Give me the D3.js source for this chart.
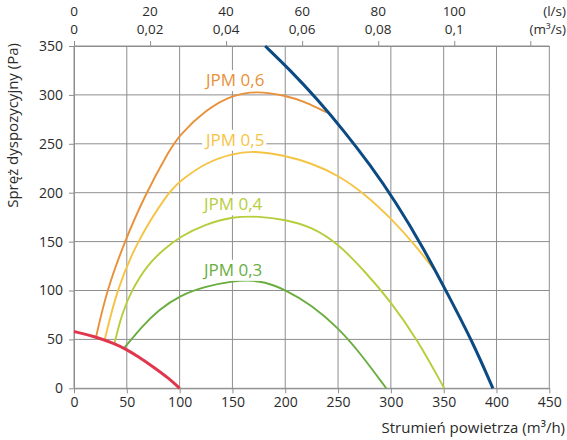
<!DOCTYPE html>
<html>
<head>
<meta charset="utf-8">
<script src="https://cdn.jsdelivr.net/npm/d3@7"></script>
<style>
  body { margin: 0; background: #fff; }
  svg { display: block; font-family: "Open Sans", sans-serif; }
  .tick text { fill: #2b2b2b; }
</style>
</head>
<body>
<svg id="chart" width="567" height="440"></svg>
<script>
// flow in m3/h, pressure in Pa
var xTicks = [0, 50, 100, 150, 200, 250, 300, 350, 400, 450];
var yTicks = [0, 50, 100, 150, 200, 250, 300, 350];
var lsTicks = [0, 20, 40, 60, 80, 100, 120];
var lsLabels = ['0', '20', '40', '60', '80', '100', ''];
var m3sLabels = ['0', '0,02', '0,04', '0,06', '0,08', '0,1', ''];

var jpm06 = [[21,53],[31,100],[48,150],[66,195],[91,245],[100,259],[125,285],[150,300],[173,304],[200,299.5],[220,292.5],[239.4,282]];
var jpm05 = [[29,49.4],[40.4,100],[59.4,150],[89,200],[100.4,212],[125,231],[150,240],[170,243],[200,238],[225,230],[250,218],[275,199],[300,174],[325,144],[341,121]];
var jpm04 = [[38.5,46.7],[45,75],[54.3,100],[70,127],[85,142],[100,155],[125,168],[150,175.5],[175,176],[200,172.5],[225,165],[250,148],[275,120],[300,88.6],[325,50],[350.5,0]];
var jpm03 = [[47.4,41],[65,64],[80,80],[100,95],[125,104.5],[150,109.5],[165,110.5],[180,109],[200,101],[225,85],[250,62],[271,36],[295.6,0]];
var minCurve = [[0,58],[20,53],[40,45],[50,39.5],[60,33],[75,22],[90,10],[100,0]];
var maxCurve = [[181,350],[205,325],[230,296],[255,264],[280,229],[305,190],[330,145],[355,94],[378,46],[396.6,0]];

var seriesNames = ['JPM 0,6', 'JPM 0,5', 'JPM 0,4', 'JPM 0,3'];
var seriesColors = ['#e8913a', '#f6c445', '#b6cd3c', '#6aad3f'];
var labelPos = [[125, 309], [125, 248], [123, 182], [123, 115]];

var svg = d3.select('#chart');
var x = d3.scaleLinear().domain([0, 450]).range([74, 549.3]);
var y = d3.scaleLinear().domain([0, 350]).range([388.3, 46]);
var xls = d3.scaleLinear().domain([0, 450 / 3.6]).range([74, 549.3]);

var gridColor = '#8e8e8e';

// grid
svg.append('g').selectAll('line').data(xTicks).enter().append('line')
   .attr('x1', d => x(d)).attr('x2', d => x(d))
   .attr('y1', y(0)).attr('y2', y(350))
   .attr('stroke', gridColor).attr('stroke-width', 1);
svg.append('g').selectAll('line').data(yTicks).enter().append('line')
   .attr('x1', x(0)).attr('x2', x(450))
   .attr('y1', d => y(d)).attr('y2', d => y(d))
   .attr('stroke', gridColor).attr('stroke-width', 1);

function styleAxis(g){
	g.select('.domain').attr('stroke', gridColor);
	g.selectAll('.tick line').attr('stroke', gridColor);
	g.selectAll('.tick text').style('font-size', '14px').style('font-family', '"Open Sans", sans-serif');
}

svg.append('g')
   .attr('transform', 'translate(0,' + y(0) + ')')
   .call(d3.axisBottom(x).tickValues(xTicks).tickSize(5).tickSizeOuter(0).tickPadding(4))
   .call(styleAxis);

svg.append('g')
   .attr('transform', 'translate(' + x(0) + ',0)')
   .call(d3.axisLeft(y).tickValues(yTicks).tickSize(5).tickSizeOuter(0).tickPadding(6))
   .call(styleAxis);

// top axis: l/s and m3/s
svg.append('g')
   .attr('transform', 'translate(0,' + y(350) + ')')
   .call(d3.axisTop(xls).tickValues(lsTicks).tickSize(5).tickSizeOuter(0).tickFormat(() => ''))
   .call(styleAxis);

svg.append('g').selectAll('text').data(lsTicks).enter().append('text')
   .attr('x', d => xls(d)).attr('y', 16)
   .attr('text-anchor', 'middle').style('font-size', '13.5px').attr('fill', '#2b2b2b')
   .text((d,i) => lsLabels[i]);
svg.append('g').selectAll('text').data(lsTicks).enter().append('text')
   .attr('x', d => xls(d)).attr('y', 34)
   .attr('text-anchor', 'middle').style('font-size', '13.5px').attr('fill', '#2b2b2b')
   .text((d,i) => m3sLabels[i]);
svg.append('text').attr('x', 566).attr('y', 16).attr('text-anchor', 'end')
   .style('font-size', '13.5px').attr('fill', '#2b2b2b').text('(l/s)');
svg.append('text').attr('x', 566).attr('y', 34).attr('text-anchor', 'end')
   .style('font-size', '13.5px').attr('fill', '#2b2b2b').text('(m³/s)');

// titles
svg.append('text').attr('x', 565).attr('y', 433).attr('text-anchor', 'end')
   .style('font-size', '15px').attr('fill', '#2b2b2b').text('Strumień powietrza (m³/h)');
svg.append('text').attr('transform', 'translate(18,43) rotate(-90)').attr('text-anchor', 'end')
   .style('font-size', '15px').attr('fill', '#2b2b2b').text('Spręż dyspozycyjny (Pa)');

// curves
var line = d3.line().x(d => x(d[0])).y(d => y(d[1])).curve(d3.curveBasis);

[jpm06, jpm05, jpm04, jpm03].forEach(function(s, i){
	svg.append('path').datum(s)
	   .attr('d', line)
	   .attr('fill', 'none')
	   .attr('stroke', seriesColors[i])
	   .attr('stroke-width', 1.9);
});

svg.append('path').datum(minCurve).attr('d', line)
   .attr('fill', 'none').attr('stroke', '#e0374f').attr('stroke-width', 3);
svg.append('path').datum(maxCurve).attr('d', line)
   .attr('fill', 'none').attr('stroke', '#0b4a82').attr('stroke-width', 3);

// labels with white backing
var lab = svg.append('g').selectAll('g').data(seriesNames).enter().append('g')
   .attr('transform', (d,i) => 'translate(' + x(labelPos[i][0]) + ',' + y(labelPos[i][1]) + ')');
lab.each(function(d, i){
	var g = d3.select(this);
	var t = g.append('text').text(d)
	   .style('font-size', '17px')
	   .attr('fill', seriesColors[i]);
	var b = t.node().getBBox();
	g.insert('rect', 'text')
	 .attr('x', b.x - 2).attr('y', b.y + 2)
	 .attr('width', b.width + 4).attr('height', b.height - 2)
	 .attr('fill', '#fff');
});
</script>
</body>
</html>
